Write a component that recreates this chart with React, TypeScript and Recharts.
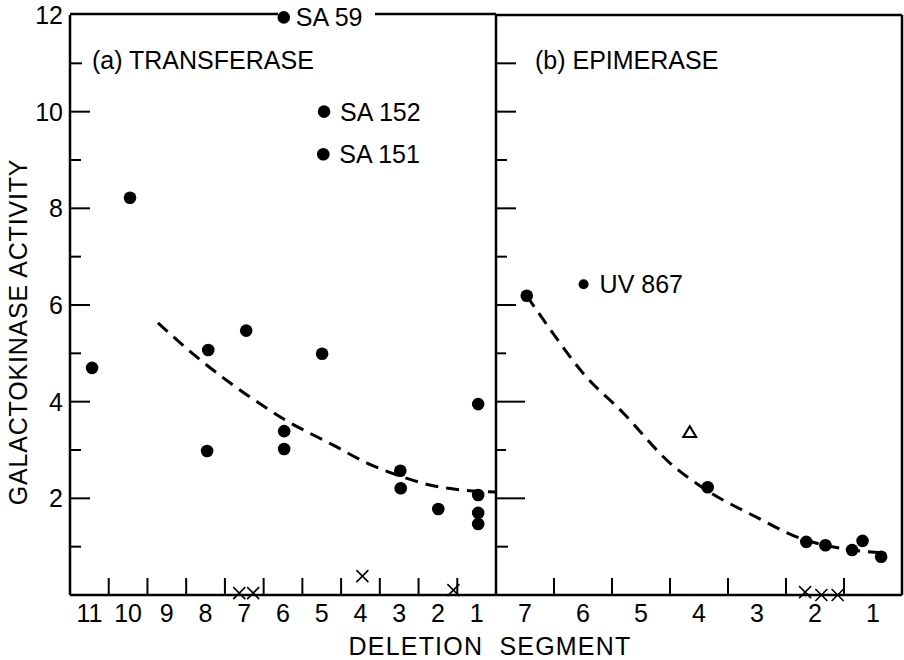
import React from 'react';
import { ComposedChart, Scatter, Line, XAxis, YAxis } from 'recharts';

// (a) transferase: solid points
const segA = [10.93, 9.95, 7.93, 7.96, 6.95, 5.97, 5.97, 5.98, 4.94, 4.96, 4.99, 2.97, 2.96, 1.99, 0.96, 0.96, 0.96, 0.96];
const actA = [4.7, 8.22, 5.07, 2.98, 5.47, 3.39, 3.02, 11.95, 10.0, 9.12, 4.99, 2.57, 2.21, 1.78, 3.95, 2.07, 1.7, 1.47];
const namesA = ['', '', '', '', '', '', '', 'SA 59', 'SA 152', 'SA 151', '', '', '', '', '', '', '', ''];
// (a) crosses near zero
const crossSegA = [7.13, 6.77, 3.95, 1.6];
const crossActA = [0.04, 0.04, 0.39, 0.1];
// (a) dashed curve
const curveSegA = [9.23, 8.22, 7.37, 6.93, 5.96, 4.7, 3.83, 2.97, 2.12, 1.34, 0.5];
const curveActA = [5.63, 4.92, 4.39, 4.14, 3.63, 3.1, 2.73, 2.46, 2.26, 2.17, 2.13];

// (b) epimerase: solid points
const segB = [6.97, 5.99, 3.85, 2.15, 1.82, 1.36, 1.18, 0.86];
const actB = [6.19, 6.43, 2.23, 1.1, 1.03, 0.93, 1.12, 0.79];
const namesB = ['', 'UV 867', '', '', '', '', '', ''];
// (b) open triangle
const triSegB = [4.16];
const triActB = [3.37];
// (b) crosses
const crossSegB = [2.17, 1.89, 1.61];
const crossActB = [0.06, 0.0, 0.0];
// (b) dashed curve
const curveSegB = [6.97, 6.52, 6.0, 5.31, 4.5, 3.87, 3.01, 2.27, 1.58, 0.84];
const curveActB = [6.19, 5.42, 4.59, 3.77, 2.73, 2.17, 1.61, 1.18, 0.97, 0.87];

// axis labels
const segmentsA = [11, 10, 9, 8, 7, 6, 5, 4, 3, 2, 1];
const segmentsB = [7, 6, 5, 4, 3, 2, 1];
const activityTicks = [1, 2, 3, 4, 5, 6, 7, 8, 9, 10, 11, 12];
const activityMax = 12;

const FONT = '"Liberation Sans", Arial, sans-serif';

const zip = (xs: number[], ys: number[], names?: string[]) =>
  xs.map((x, i) => ({ seg: x, act: ys[i], name: names ? names[i] : '' }));

const withHalves = (segs: number[]) => {
  const out: number[] = [...segs];
  for (let i = 0; i < segs.length - 1; i++) out.push((segs[i] + segs[i + 1]) / 2);
  return out.sort((a, b) => a - b);
};

const DotShape = (props: any) => {
  const { cx, cy, payload } = props;
  const name: string = payload?.name || '';
  const small = name.startsWith('UV');
  const onTop = name === 'SA 59';
  return (
    <g>
      <circle cx={cx} cy={cy} r={small ? 5 : 6.3} fill="#000" />
      {name && (
        <text x={cx + (onTop ? 12 : 16)} y={cy} dy="0.36em" fontSize={25} fontFamily={FONT} fill="#000">
          {name}
        </text>
      )}
    </g>
  );
};

const CrossShape = (props: any) => {
  const { cx, cy } = props;
  const s = 6;
  return (
    <g stroke="#000" strokeWidth={1.6}>
      <line x1={cx - s} y1={cy - s} x2={cx + s} y2={cy + s} />
      <line x1={cx - s} y1={cy + s} x2={cx + s} y2={cy - s} />
    </g>
  );
};

const TriShape = (props: any) => {
  const { cx, cy } = props;
  return (
    <polygon
      points={`${cx},${cy - 6} ${cx + 6.5},${cy + 5} ${cx - 6.5},${cy + 5}`}
      fill="none"
      stroke="#000"
      strokeWidth={2}
    />
  );
};

// y ticks point inward; the top tick carries the frame's top edge (with an optional gap for a label)
const makeYTick =
  (lengths: Record<number, number>, showLabels: boolean, frameWidth: number, gap?: [number, number]) =>
  (props: any) => {
    const { x, y, payload } = props;
    const v = payload.value;
    const len = lengths[v] || 0;
    const top = v === activityMax;
    return (
      <g>
        {len > 0 && <line x1={x} x2={x + len} y1={y} y2={y} stroke="#000" strokeWidth={2} />}
        {top && !gap && <line x1={x} x2={x + frameWidth} y1={y} y2={y} stroke="#000" strokeWidth={2.5} />}
        {top && gap && (
          <>
            <line x1={x} x2={x + gap[0]} y1={y - 1} y2={y - 1} stroke="#000" strokeWidth={2.5} />
            <line x1={x + gap[1]} x2={x + frameWidth} y1={y - 1} y2={y - 1} stroke="#000" strokeWidth={2.5} />
          </>
        )}
        {showLabels && v % 2 === 0 && (
          <text x={x - 7} y={y} dy="0.36em" textAnchor="end" fontSize={25} fontFamily={FONT} fill="#000">
            {v}
          </text>
        )}
      </g>
    );
  };

const XTick = (props: any) => {
  const { x, y, payload } = props;
  const v = payload.value;
  if (Number.isInteger(v)) {
    return (
      <text x={x} y={y + 27} textAnchor="middle" fontSize={25} fontFamily={FONT} fill="#000">
        {v}
      </text>
    );
  }
  return <line x1={x} x2={x} y1={y} y2={y - 17} stroke="#000" strokeWidth={2} />;
};

const tickLenA: Record<number, number> = { 1: 11, 2: 20, 3: 11, 4: 20, 5: 11, 6: 20, 7: 11, 8: 20, 9: 11, 10: 20, 11: 12 };
const tickLenB: Record<number, number> = { 1: 12, 2: 29, 3: 10, 4: 29, 5: 10, 6: 20, 7: 11, 8: 20, 9: 11, 10: 20, 11: 20 };

const axisStroke = { stroke: '#000', strokeWidth: 2.5 };

function Panel(props: {
  width: number;
  left: number;
  right: number;
  segs: number[];
  dots: any[];
  crosses: any[];
  curve: any[];
  tris?: any[];
  tickLen: Record<number, number>;
  yLabels: boolean;
  topGap?: [number, number];
  rightBorder?: boolean;
  children?: React.ReactNode;
}) {
  const { segs } = props;
  const lo = Math.min(...segs) - 0.5;
  const hi = Math.max(...segs) + 0.5;
  const frameWidth = props.width - props.left - 62 - props.right - (props.rightBorder ? 1 : 0);
  return (
    <ComposedChart
      width={props.width}
      height={660}
      margin={{ top: 15, right: props.right, bottom: 0, left: props.left }}
    >
      <XAxis
        dataKey="seg"
        type="number"
        domain={[lo, hi]}
        reversed
        ticks={withHalves(segs)}
        interval={0}
        tick={XTick}
        tickLine={false}
        tickSize={0}
        tickMargin={0}
        height={65}
        stroke="#000"
        axisLine={axisStroke}
      />
      <YAxis
        dataKey="act"
        type="number"
        domain={[0, activityMax]}
        ticks={activityTicks}
        interval={0}
        tick={makeYTick(props.tickLen, props.yLabels, frameWidth, props.topGap)}
        tickLine={false}
        tickSize={0}
        tickMargin={0}
        width={62}
        stroke="#000"
        axisLine={axisStroke}
      />
      {props.rightBorder && (
        <YAxis
          yAxisId="right"
          orientation="right"
          type="number"
          domain={[0, 1]}
          tick={false}
          tickLine={false}
          width={1}
          stroke="#000"
          axisLine={axisStroke}
        />
      )}
      <Line
        data={props.curve}
        dataKey="act"
        type="monotone"
        stroke="#000"
        strokeWidth={3}
        strokeDasharray="13 8"
        dot={false}
        activeDot={false}
        isAnimationActive={false}
      />
      <Scatter data={props.crosses} dataKey="act" shape={CrossShape} isAnimationActive={false} />
      {props.tris && <Scatter data={props.tris} dataKey="act" shape={TriShape} isAnimationActive={false} />}
      <Scatter data={props.dots} dataKey="act" shape={DotShape} isAnimationActive={false} />
      {props.children}
    </ComposedChart>
  );
}

export default function App() {
  return (
    <div style={{ position: 'absolute', left: 0, top: 0, width: 904, height: 660, background: '#fff', fontFamily: FONT }}>
      <div style={{ position: 'absolute', left: 0, top: 0 }}>
        <Panel
          width={500}
          left={8}
          right={4}
          segs={segmentsA}
          dots={zip(segA, actA, namesA)}
          crosses={zip(crossSegA, crossActA)}
          curve={zip(curveSegA, curveActA)}
          tickLen={tickLenA}
          yLabels
          topGap={[208, 305]}
        >
          <text
            x={18}
            y={332}
            transform="rotate(-90 18 332)"
            dy="0.36em"
            textAnchor="middle"
            fontSize={25}
            letterSpacing={0.8}
            fontFamily={FONT}
            fill="#000"
          >
            GALACTOKINASE ACTIVITY
          </text>
          <text x={92} y={69} fontSize={25} fontFamily={FONT} fill="#000">
            (a) TRANSFERASE
          </text>
        </Panel>
      </div>
      <div style={{ position: 'absolute', left: 434, top: 0 }}>
        <Panel
          width={470}
          left={0}
          right={1}
          segs={segmentsB}
          dots={zip(segB, actB, namesB)}
          crosses={zip(crossSegB, crossActB)}
          curve={zip(curveSegB, curveActB)}
          tris={zip(triSegB, triActB)}
          tickLen={tickLenB}
          yLabels={false}
          rightBorder
        >
          <text x={101} y={69} fontSize={25} fontFamily={FONT} fill="#000">
            (b) EPIMERASE
          </text>
        </Panel>
      </div>
      <svg width={904} height={660} style={{ position: 'absolute', left: 0, top: 0, pointerEvents: 'none' }}>
        <text
          x={490}
          y={655}
          textAnchor="middle"
          fontSize={25}
          letterSpacing={1.2}
          fontFamily={FONT}
          fill="#000"
          style={{ whiteSpace: 'pre' }}
        >
          {'DELETION  SEGMENT'}
        </text>
      </svg>
    </div>
  );
}
